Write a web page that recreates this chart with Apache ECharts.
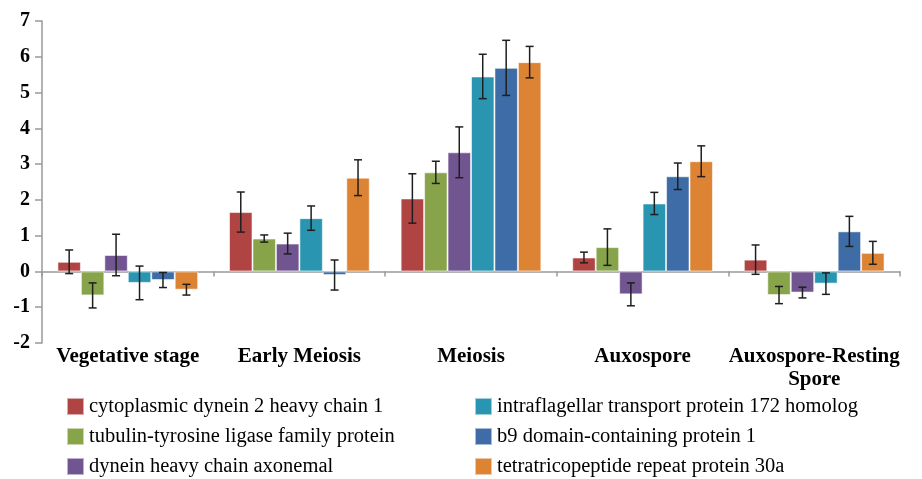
<!DOCTYPE html>
<html>
<head>
<meta charset="utf-8">
<script src="https://cdn.jsdelivr.net/npm/echarts@6/dist/echarts.min.js"></script>
<style>html,body{margin:0;padding:0;background:#fff;}#c{width:922px;height:479px;}</style>
</head>
<body>
<div id="c"></div>
<script>
const categories = ['Vegetative stage', 'Early Meiosis', 'Meiosis', 'Auxospore', 'Auxospore-Resting\nSpore'];
const seriesNames = [
  'cytoplasmic dynein 2 heavy chain 1',
  'tubulin-tyrosine ligase family protein',
  'dynein heavy chain axonemal',
  'intraflagellar transport protein 172 homolog',
  'b9 domain-containing protein 1',
  'tetratricopeptide repeat protein 30a'
];
const colors = ['#B04443', '#87A44A', '#715590', '#2A95B0', '#3E6CA6', '#DD8434'];

const dynein2 = [0.27, 1.66, 2.04, 0.39, 0.33];
const tubulinTTL = [-0.67, 0.92, 2.77, 0.68, -0.66];
const dyneinAxonemal = [0.46, 0.78, 3.33, -0.64, -0.59];
const ift172 = [-0.32, 1.49, 5.45, 1.90, -0.34];
const b9domain = [-0.24, -0.10, 5.69, 2.66, 1.12];
const ttc30a = [-0.51, 2.62, 5.85, 3.08, 0.52];

const dynein2Err = [0.33, 0.56, 0.69, 0.15, 0.41];
const tubulinTTLErr = [0.35, 0.10, 0.31, 0.51, 0.24];
const dyneinAxonemalErr = [0.58, 0.29, 0.71, 0.32, 0.15];
const ift172Err = [0.47, 0.34, 0.62, 0.31, 0.30];
const b9domainErr = [0.21, 0.42, 0.77, 0.37, 0.42];
const ttc30aErr = [0.15, 0.50, 0.44, 0.43, 0.32];

const yTicks = { min: -2, max: 7, interval: 1 };

const values = [dynein2, tubulinTTL, dyneinAxonemal, ift172, b9domain, ttc30a];
const errors = [dynein2Err, tubulinTTLErr, dyneinAxonemalErr, ift172Err, b9domainErr, ttc30aErr];

const CAT_GAP = 0.18;
const N = seriesNames.length;
const FONT = "'Liberation Serif', 'Times New Roman', serif";

const series = [];
values.forEach(function (vals, k) {
  series.push({
    name: seriesNames[k],
    type: 'bar',
    xAxisIndex: 0,
    data: vals,
    barGap: '0%',
    barCategoryGap: (CAT_GAP * 100) + '%',
    itemStyle: { color: colors[k], borderColor: 'rgba(255,255,255,0.55)', borderWidth: 1 },
    z: 2
  });
});
values.forEach(function (vals, k) {
  series.push({
    name: seriesNames[k] + ' error',
    type: 'custom',
    xAxisIndex: 0,
    z: 5,
    silent: true,
    data: vals.map(function (v, i) { return [i, v, errors[k][i]]; }),
    renderItem: function (params, api) {
      const ci = api.value(0), v = api.value(1), e = api.value(2);
      const bandW = api.size([1, 0])[0];
      const bw = bandW * (1 - CAT_GAP) / N;
      const off = (k - (N - 1) / 2) * bw;
      const top = api.coord([ci, v + e]);
      const bot = api.coord([ci, v - e]);
      const x = top[0] + off;
      const cap = 4;
      const st = { stroke: '#1f1f1f', lineWidth: 1.5 };
      return {
        type: 'group',
        children: [
          { type: 'line', shape: { x1: x, y1: top[1], x2: x, y2: bot[1] }, style: st },
          { type: 'line', shape: { x1: x - cap, y1: top[1], x2: x + cap, y2: top[1] }, style: st },
          { type: 'line', shape: { x1: x - cap, y1: bot[1], x2: x + cap, y2: bot[1] }, style: st }
        ]
      };
    }
  });
});

const legendText = { fontFamily: FONT, fontSize: 20.5, color: '#000', lineHeight: 21 };

const chart = echarts.init(document.getElementById('c'));
chart.setOption({
  animation: false,
  backgroundColor: '#fff',
  grid: { left: 42, right: 22, top: 21, bottom: 136, containLabel: false },
  legend: [
    {
      data: seriesNames.slice(0, 3), orient: 'vertical', left: 66, top: 396,
      width: 400, height: 120,
      itemWidth: 17, itemHeight: 17, itemGap: 9, icon: 'rect', padding: 0,
      textStyle: legendText, selectedMode: false
    },
    {
      data: seriesNames.slice(3), orient: 'vertical', left: 474, top: 396,
      width: 440, height: 120,
      itemWidth: 17, itemHeight: 17, itemGap: 9, icon: 'rect', padding: 0,
      textStyle: legendText, selectedMode: false
    }
  ],
  xAxis: [
    {
      type: 'category', data: categories, position: 'bottom',
      axisLine: { show: true, onZero: true, lineStyle: { color: '#999', width: 1.5 } },
      axisTick: { show: true, length: 5, lineStyle: { color: '#999', width: 1.5 } },
      axisLabel: { show: false },
      splitLine: { show: false }
    },
    {
      type: 'category', data: categories, position: 'bottom',
      axisLine: { show: false, onZero: false },
      axisTick: { show: false },
      axisLabel: {
        show: true, interval: 0, margin: 2, color: '#000',
        fontFamily: FONT, fontSize: 21, fontWeight: 'bold', lineHeight: 23
      },
      splitLine: { show: false }
    }
  ],
  yAxis: {
    type: 'value', min: yTicks.min, max: yTicks.max, interval: yTicks.interval,
    axisLine: { show: true, lineStyle: { color: '#999', width: 1.5 } },
    axisTick: { show: true, length: 7, lineStyle: { color: '#999', width: 1.5 } },
    axisLabel: { margin: 12, color: '#000', fontFamily: FONT, fontSize: 20, fontWeight: 'bold' },
    splitLine: { show: false }
  },
  series: series
});
</script>
</body>
</html>
